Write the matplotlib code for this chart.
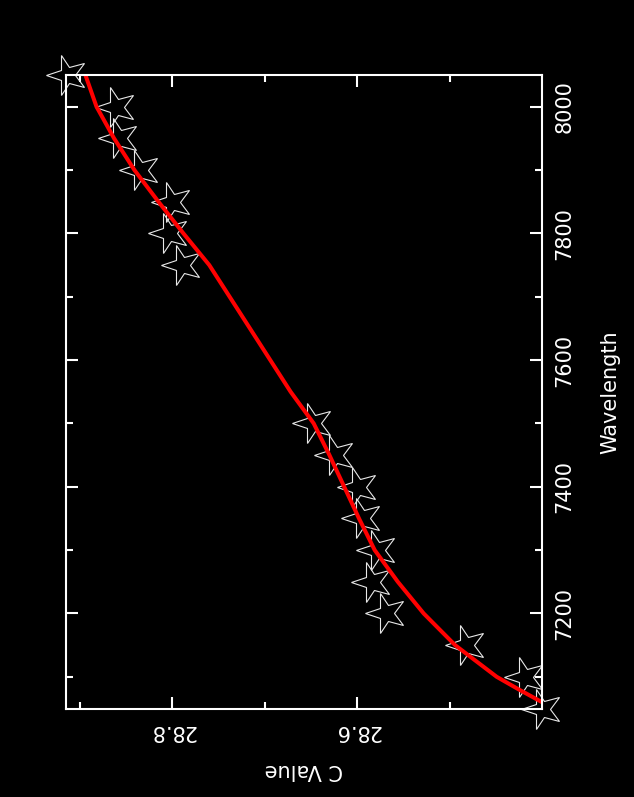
import matplotlib
matplotlib.use('Agg')
import matplotlib.pyplot as plt
from matplotlib.markers import MarkerStyle
from matplotlib.transforms import Affine2D
from matplotlib.ticker import FixedLocator, FormatStrFormatter

# measured points (wavelength, C value)
wave = [7050, 7100, 7150, 7200, 7250, 7300, 7350, 7400, 7450, 7500,
        7750, 7800, 7850, 7900, 7950, 8000, 8050]
cval = [28.400, 28.418, 28.482, 28.569, 28.584, 28.579, 28.595, 28.599, 28.624, 28.648,
        28.790, 28.804, 28.800, 28.835, 28.858, 28.861, 28.914]

# fitted curve
fit_wave = [7060, 7080, 7100, 7150, 7200, 7250, 7300, 7350, 7400, 7450, 7500,
            7550, 7600, 7650, 7700, 7750, 7800, 7850, 7900, 7950, 8000, 8050]
fit_cval = [28.400, 28.425, 28.449, 28.494, 28.528, 28.556, 28.581, 28.598, 28.614, 28.630, 28.647,
            28.672, 28.694, 28.716, 28.738, 28.760, 28.788, 28.815, 28.841, 28.863, 28.882, 28.894]

c_major = [28.6, 28.8]
c_minor = [28.5, 28.7, 28.9]
w_major = [7200, 7400, 7600, 7800, 8000]
w_minor = [7100, 7300, 7500, 7700, 7900]

fig = plt.figure(figsize=(6.34, 7.97), dpi=100, facecolor='black')
ax = fig.add_axes([66/634, 1-708.5/797, (542-66)/634, (708.5-75)/797])
ax.set_facecolor('black')

# plot is drawn turned on its side: C value runs right-to-left, wavelength upward
star = MarkerStyle('*', transform=Affine2D().rotate_deg(90))
ax.plot(cval, wave, linestyle='none', marker=star, markersize=30,
        markerfacecolor='none', markeredgecolor='#e8e8e8', markeredgewidth=0.8,
        clip_on=False)
ax.plot(fit_cval, fit_wave, color='red', linewidth=2.9)

ax.set_xlim(28.915, 28.400)
ax.set_ylim(7050, 8050)

for s in ax.spines.values():
    s.set_color('white')
    s.set_linewidth(1.5)

ax.xaxis.set_major_locator(FixedLocator(c_major))
ax.xaxis.set_minor_locator(FixedLocator(c_minor))
ax.yaxis.set_major_locator(FixedLocator(w_major))
ax.yaxis.set_minor_locator(FixedLocator(w_minor))
ax.xaxis.set_major_formatter(FormatStrFormatter('%.1f'))
ax.yaxis.set_major_formatter(FormatStrFormatter('%d'))

ax.tick_params(which='both', direction='in', colors='white', width=1.5,
               top=True, bottom=True, left=True, right=True,
               labelleft=False, labelright=True, labelsize=15)
ax.tick_params(which='major', length=8.6)
ax.tick_params(which='minor', length=4.7)
ax.tick_params(axis='x', labelrotation=180, pad=9)
ax.tick_params(axis='y', labelrotation=90, pad=8.8)
for t in ax.get_yticklabels():
    t.set_va('center')

ax.yaxis.set_label_position('right')
ax.set_ylabel('Wavelength', color='white', fontsize=15, rotation=90, labelpad=19)
ax.set_xlabel('C Value', color='white', fontsize=15, rotation=180, labelpad=14)

fig.savefig('out.png', dpi=100, facecolor='black')
